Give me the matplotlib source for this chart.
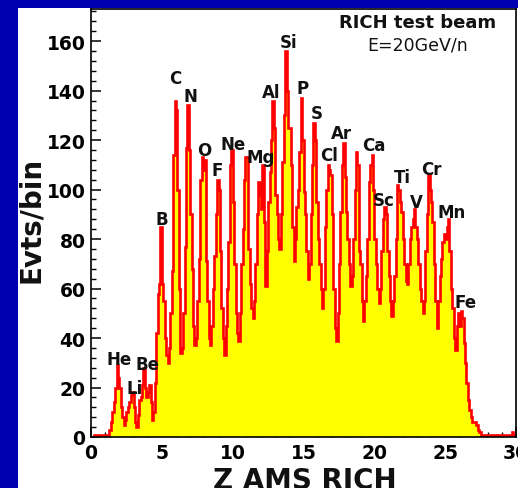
import numpy as np
import matplotlib
matplotlib.use("Agg")
import matplotlib.pyplot as plt
from matplotlib.patches import Rectangle
from matplotlib.ticker import MultipleLocator

# events per 0.1-wide Z bin, one row per unit of Z
counts = [
    0, 0, 1, 1, 1, 1, 1, 1, 1, 1,            # 0
    1, 1, 1, 3, 6, 10, 14, 20, 29, 24,       # 1
    20, 12, 8, 5, 7, 10, 12, 14, 17, 18,     # 2
    12, 6, 4, 9, 15, 16, 21, 28, 20, 16,     # 3
    18, 21, 14, 7, 10, 22, 42, 58, 62, 85,   # 4
    62, 55, 40, 33, 30, 36, 50, 67, 114, 136,  # 5
    132, 100, 60, 34, 36, 50, 77, 117, 134, 116,  # 6
    90, 68, 45, 37, 40, 55, 72, 104, 113, 108,  # 7
    112, 71, 55, 40, 37, 45, 60, 73, 90, 104,   # 8
    100, 75, 52, 40, 33, 45, 60, 79, 110, 116,  # 9
    95, 70, 50, 42, 39, 50, 70, 84, 104, 113,   # 10
    113, 76, 62, 52, 48, 55, 70, 90, 103, 98,   # 11
    92, 110, 87, 61, 75, 95, 107, 120, 136, 125,  # 12
    98, 90, 80, 76, 90, 111, 130, 156, 140, 125,  # 13
    125, 110, 85, 71, 80, 93, 100, 115, 137, 120,  # 14
    99, 90, 75, 64, 70, 90, 110, 127, 120, 95,   # 15
    80, 70, 60, 52, 60, 85, 100, 110, 108, 106,  # 16
    90, 60, 44, 39, 50, 70, 91, 110, 119, 105,   # 17
    91, 80, 70, 61, 65, 80, 100, 115, 110, 75,   # 18
    70, 55, 47, 55, 65, 80, 103, 110, 114, 100,  # 19
    80, 70, 60, 54, 60, 75, 88, 93, 90, 75,      # 20
    65, 55, 49, 55, 65, 80, 102, 100, 95, 91,    # 21
    80, 70, 63, 62, 70, 80, 85, 88, 92, 85,      # 22
    80, 70, 60, 55, 50, 55, 75, 90, 106, 100,    # 23
    95, 87, 70, 55, 44, 55, 65, 72, 79, 82,      # 24
    80, 85, 88, 75, 60, 52, 40, 35, 45, 50,      # 25
    45, 51, 48, 38, 30, 22, 15, 11, 8, 6,        # 26
    6, 6, 5, 3, 2, 1, 1, 1, 1, 1,                # 27
    1, 1, 1, 1, 1, 1, 0, 1, 1, 1,                # 28
    1, 1, 1, 1, 1, 1, 1, 2, 1, 1,                # 29
]
z_lo, z_hi, z_step = 0.0, 30.0, 0.1

elements = ["He", "Li", "Be", "B", "C", "N", "O", "F", "Ne", "Mg", "Al", "Si",
            "P", "S", "Cl", "Ar", "Ca", "Sc", "Ti", "V", "Cr", "Mn", "Fe"]
# label anchor (Z, Evts/bin) for each element tag
label_z = [2.0, 3.06, 3.96, 4.98, 5.98, 7.05, 8.0, 8.9, 10.03, 12.0, 12.7, 13.98,
           14.95, 15.96, 16.82, 17.7, 19.94, 20.64, 21.97, 23.0, 24.0, 25.47, 26.44]
label_y = [31.6, 20, 29.6, 88, 145, 138, 116, 108, 118.6, 113, 139.5, 159.8,
           141, 131, 114, 122.7, 118, 95.7, 105, 95, 108.5, 91, 54.5]

W, H = 518, 489
plt.rcParams["font.family"] = "DejaVu Sans"
plt.rcParams["font.weight"] = "bold"

fig = plt.figure(figsize=(W / 100, H / 100), dpi=100)
fig.patch.set_facecolor("#0000b0")
fig.patches.append(Rectangle((18 / W, 0), 1, (H - 9) / H, transform=fig.transFigure,
                             facecolor="white", edgecolor="none", zorder=-1))

ax = fig.add_axes([91 / W, 51 / H, 425 / W, 428 / H])
edges = np.arange(z_lo, z_hi + z_step / 2, z_step)
ax.stairs(counts, edges, fill=True, color="#ffff00", zorder=2)
ax.stairs(counts, edges, color="#ff0000", lw=1.9, zorder=3)
ax.set_xlim(z_lo, z_hi)
ax.set_ylim(0, 173)

for name, z, y in zip(elements, label_z, label_y):
    ax.text(z, y, name, ha="center", va="center", fontsize=12, fontweight="bold",
            color="#111111", zorder=4)

ax.text(0.769, 0.969, "RICH test beam", transform=ax.transAxes, ha="center", va="center",
        fontsize=13, fontweight="bold", color="#111111")
ax.text(0.769, 0.918, "E=20GeV/n", transform=ax.transAxes, ha="center", va="center",
        fontsize=12.5, fontweight="normal", color="#111111")

ax.xaxis.set_major_locator(MultipleLocator(5))
ax.xaxis.set_minor_locator(MultipleLocator(1))
ax.yaxis.set_major_locator(MultipleLocator(20))
ax.yaxis.set_minor_locator(MultipleLocator(4))
ax.tick_params(which="major", direction="in", length=7, width=1.1, labelsize=13.5, pad=4)
ax.tick_params(which="minor", direction="in", length=3.5, width=1.0)
for lab in ax.get_xticklabels() + ax.get_yticklabels():
    lab.set_fontweight("bold")
for sp in ax.spines.values():
    sp.set_linewidth(1.2)
    sp.set_zorder(5)

fig.text(305 / W, 1 - 467 / H, "Z AMS RICH", ha="center", va="top", fontsize=20,
         fontweight="bold", color="#111111")
fig.text(31.5 / W, 1 - 220 / H, "Evts/bin", rotation=90, ha="center", va="center",
         fontsize=20, fontweight="bold", color="#111111")

fig.savefig("out.png", dpi=100, facecolor=fig.get_facecolor())
